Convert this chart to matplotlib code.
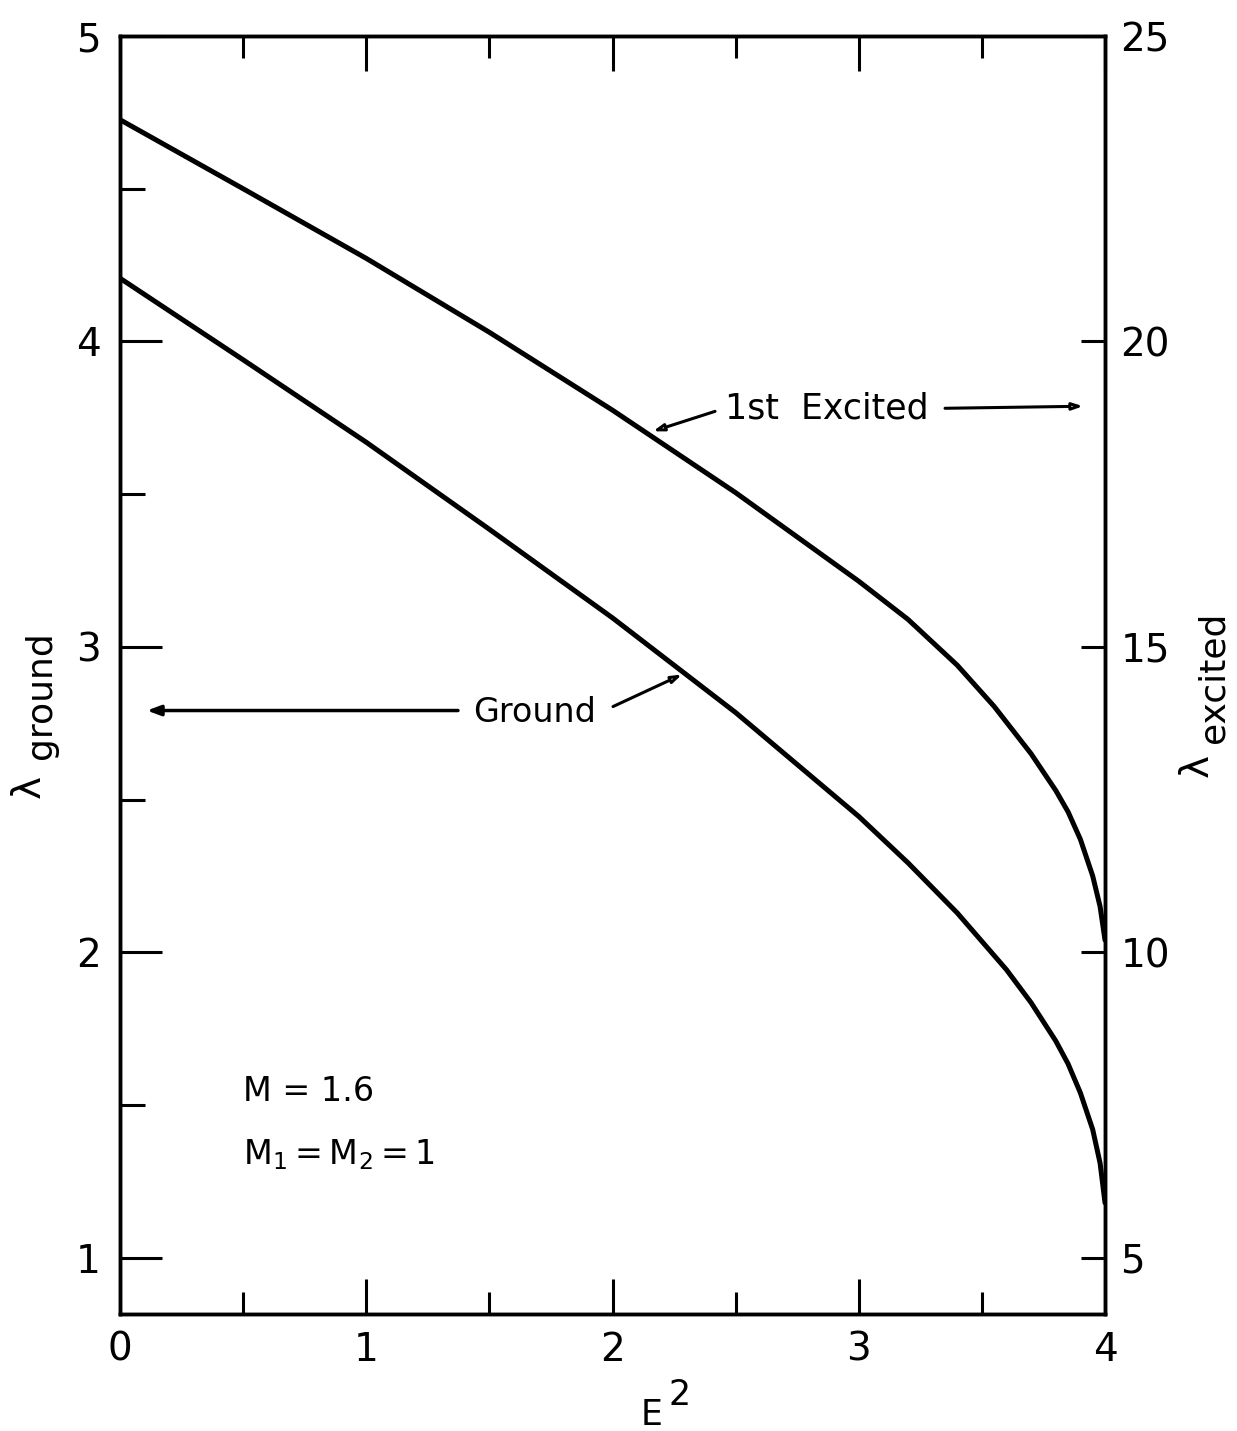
import matplotlib
matplotlib.use('Agg')
import matplotlib.pyplot as plt
from matplotlib.ticker import MultipleLocator

# values
e2_ground = [0.0, 0.5, 1.0, 1.5, 2.0, 2.5, 3.0, 3.2, 3.4, 3.6, 3.7, 3.8, 3.85, 3.9, 3.95, 3.98, 4.0]
lam_ground = [4.207, 3.940, 3.670, 3.385, 3.095, 2.785, 2.445, 2.293, 2.129, 1.943,
              1.835, 1.71, 1.635, 1.54, 1.42, 1.31, 1.18]

e2_excited = [0.0, 0.5, 1.0, 1.5, 2.0, 2.5, 3.0, 3.2, 3.4, 3.55, 3.7, 3.8, 3.85, 3.9, 3.95, 3.98, 4.0]
lam_excited = [23.63, 22.50, 21.36, 20.15, 18.875, 17.525, 16.075, 15.45, 14.70, 14.025,
               13.25, 12.65, 12.30, 11.85, 11.25, 10.75, 10.20]

x_ticks = [0, 1, 2, 3, 4]
ground_ticks = [1, 2, 3, 4, 5]
excited_ticks = [5, 10, 15, 20, 25]

plt.rcParams['font.family'] = ['DejaVu Sans']
plt.rcParams['mathtext.fontset'] = 'dejavusans'

fig = plt.figure(figsize=(12.37, 14.31), dpi=100)
ax = fig.add_axes([0.0970, 0.08176, 0.7963, 0.89308])
ax2 = ax.twinx()

ax.plot(e2_ground, lam_ground, color='black', lw=3.6, solid_capstyle='round',
        solid_joinstyle='round')
ax2.plot(e2_excited, lam_excited, color='black', lw=3.6, solid_capstyle='round',
         solid_joinstyle='round')

ax.set_xlim(0, 4)
ax.set_ylim(0.816, 5.0)
ax2.set_ylim(0.816 * 5, 25.0)

ax.set_xticks(x_ticks)
ax.set_yticks(ground_ticks)
ax2.set_yticks(excited_ticks)
ax.xaxis.set_minor_locator(MultipleLocator(0.5))
ax.yaxis.set_minor_locator(MultipleLocator(0.5))

ax.tick_params(axis='x', which='major', direction='in', length=25, width=2.2,
               top=True, labelsize=28, pad=12)
ax.tick_params(axis='x', which='minor', direction='in', length=16, width=2.2, top=True)
ax.tick_params(axis='y', which='major', direction='in', length=30, width=2.2,
               labelsize=28, pad=14)
ax.tick_params(axis='y', which='minor', direction='in', length=18, width=2.2)
ax2.tick_params(axis='y', which='major', direction='in', length=17, width=2.2,
                labelsize=28, pad=11)

for a in (ax, ax2):
    for s in a.spines.values():
        s.set_linewidth(2.5)

# axis labels (subscripts drawn nearly full size like the lettering)
fig.text(0.0234, 0.4507, 'λ', rotation=90, fontsize=28, ha='center', va='center')
fig.text(0.0332, 0.5143, 'ground', rotation=90, fontsize=26, ha='center', va='center')
fig.text(0.9677, 0.4654, 'λ', rotation=90, fontsize=28, ha='center', va='center')
fig.text(0.9814, 0.5269, 'excited', rotation=90, fontsize=26, ha='center', va='center')
fig.text(0.5265, 0.0115, 'E', fontsize=25, ha='center', va='center')
fig.text(0.5497, 0.0255, '2', fontsize=25, ha='center', va='center')

# annotations
ax.text(0.3584, 0.4706, 'Ground', fontsize=24, ha='left', va='center', transform=ax.transAxes)
ax.annotate('', xy=(0.0274, 0.4722), xytext=(0.3431, 0.4722), xycoords='axes fraction',
            arrowprops=dict(arrowstyle='-|>,head_length=0.8,head_width=0.3', lw=2.5,
                            color='black', shrinkA=0, shrinkB=0))
ax.annotate('', xy=(0.5706, 0.5004), xytext=(0.5005, 0.4753), xycoords='axes fraction',
            arrowprops=dict(arrowstyle='-|>,head_length=0.6,head_width=0.2', lw=2.2,
                            fc='white', ec='black', shrinkA=0, shrinkB=0))

ax.text(0.6142, 0.7087, '1st  Excited', fontsize=25, ha='left', va='center', transform=ax.transAxes)
ax.annotate('', xy=(0.5411, 0.6907), xytext=(0.6041, 0.7063), xycoords='axes fraction',
            arrowprops=dict(arrowstyle='-|>,head_length=0.6,head_width=0.2', lw=2.2,
                            fc='white', ec='black', shrinkA=0, shrinkB=0))
ax.annotate('', xy=(0.9777, 0.7103), xytext=(0.8376, 0.7087), xycoords='axes fraction',
            arrowprops=dict(arrowstyle='-|>,head_length=0.6,head_width=0.2', lw=2.2,
                            fc='white', ec='black', shrinkA=0, shrinkB=0))

ax.text(0.1249, 0.1666, 'M = 1.6', fontsize=24, ha='left', va='baseline', transform=ax.transAxes)
ax.text(0.1249, 0.1175, r'$\mathregular{M_1 = M_2 = 1}$', fontsize=24, ha='left',
        va='baseline', transform=ax.transAxes)

fig.savefig('out.png', dpi=100, facecolor='white')
plt.close(fig)
